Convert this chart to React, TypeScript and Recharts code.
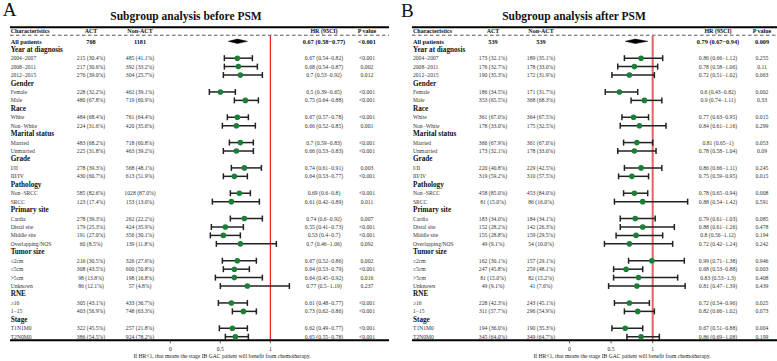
import React from 'react';
import { ScatterChart, Scatter, XAxis, YAxis, ErrorBar, ReferenceLine } from 'recharts';

const FONT = '"Liberation Serif", "Times New Roman", serif';
const GREEN = '#1a7f37';

// ---------- data ----------
const groupNames = ['Year at diagnosis', 'Gender', 'Race', 'Marital status', 'Grade', 'Pathology', 'Primary site', 'Tumor size', 'RNE', 'Stage'];
const subgroupLabels = [
  ['2004−2007', '2008−2011', '2012−2015'],
  ['Female', 'Male'],
  ['White', 'Non−White'],
  ['Married', 'Unmarried'],
  ['I/II', 'III/IV'],
  ['Non−SRCC', 'SRCC'],
  ['Cardia', 'Distal site', 'Middle site', 'Overlapping/NOS'],
  ['≤2cm', '≤5cm', '>5cm', 'Unknown'],
  ['≥16', '1−15'],
  ['T1N1M0', 'T2N0M0'],
];
const xTicks = [0, 0.5, 1];

// before PSM
const allBefore = { act: 708, non: 1181, hr: 0.67, lo: 0.58, hi: 0.77, p: '<0.001' };
const actNBefore = [215, 217, 276, 228, 480, 484, 224, 483, 225, 278, 430, 585, 123, 278, 179, 191, 60, 216, 308, 98, 86, 305, 403, 322, 386];
const actPctBefore = [30.4, 30.6, 39.0, 32.2, 67.8, 68.4, 31.6, 68.2, 31.8, 39.3, 60.7, 82.6, 17.4, 39.3, 25.3, 27.0, 8.5, 30.5, 43.5, 13.8, 12.1, 43.1, 56.9, 45.5, 54.5];
const nonNBefore = [485, 392, 304, 462, 719, 761, 420, 718, 463, 568, 613, 1028, 153, 262, 424, 356, 139, 326, 600, 198, 57, 433, 748, 257, 924];
const nonPctBefore = [41.1, 33.2, 25.7, 39.1, 60.9, 64.4, 35.6, 60.8, 39.2, 48.1, 51.9, 87.0, 13.0, 22.2, 35.9, 30.1, 11.8, 27.6, 50.8, 16.8, 4.8, 36.7, 63.3, 21.8, 78.2];
const hrBefore = [0.67, 0.68, 0.7, 0.5, 0.75, 0.67, 0.66, 0.7, 0.66, 0.74, 0.64, 0.69, 0.61, 0.74, 0.55, 0.53, 0.7, 0.67, 0.64, 0.64, 0.77, 0.61, 0.73, 0.62, 0.65];
const loBefore = [0.54, 0.54, 0.53, 0.39, 0.64, 0.57, 0.52, 0.59, 0.53, 0.61, 0.53, 0.6, 0.42, 0.6, 0.41, 0.4, 0.46, 0.52, 0.53, 0.45, 0.5, 0.48, 0.62, 0.49, 0.55];
const hiBefore = [0.82, 0.87, 0.92, 0.65, 0.88, 0.78, 0.85, 0.83, 0.83, 0.91, 0.77, 0.8, 0.89, 0.92, 0.73, 0.7, 1.06, 0.86, 0.79, 0.92, 1.19, 0.77, 0.86, 0.77, 0.78];
const pBefore = ['<0.001', '0.002', '0.012', '<0.001', '<0.001', '<0.001', '0.001', '<0.001', '<0.001', '0.003', '<0.001', '<0.001', '0.011', '0.007', '<0.001', '<0.001', '0.092', '0.002', '<0.001', '0.016', '0.237', '<0.001', '<0.001', '<0.001', '<0.001'];

// after PSM
const allAfter = { act: 539, non: 539, hr: 0.79, lo: 0.67, hi: 0.94, p: '0.009' };
const actNAfter = [173, 176, 190, 186, 353, 361, 178, 366, 173, 220, 319, 458, 81, 183, 152, 155, 49, 162, 247, 81, 49, 228, 311, 194, 345];
const actPctAfter = [32.1, 32.7, 35.3, 34.5, 65.5, 67.0, 33.0, 67.9, 32.1, 40.8, 59.2, 85.0, 15.0, 34.0, 28.2, 28.8, 9.1, 30.1, 45.8, 15.0, 9.1, 42.3, 57.7, 36.0, 64.0];
const nonNAfter = [189, 178, 172, 171, 368, 364, 175, 361, 178, 229, 310, 453, 86, 184, 142, 159, 54, 157, 259, 82, 41, 243, 296, 190, 349];
const nonPctAfter = [35.1, 33.0, 31.9, 31.7, 68.3, 67.5, 32.5, 67.0, 33.0, 42.5, 57.5, 84.0, 16.0, 34.1, 26.3, 29.5, 10.0, 29.1, 48.1, 15.2, 7.6, 45.1, 54.9, 35.3, 64.7];
const hrAfter = [0.86, 0.78, 0.72, 0.6, 0.9, 0.77, 0.84, 0.81, 0.78, 0.86, 0.75, 0.78, 0.88, 0.79, 0.88, 0.8, 0.72, 0.99, 0.68, 0.83, 0.81, 0.72, 0.82, 0.67, 0.86];
const loAfter = [0.66, 0.58, 0.51, 0.43, 0.74, 0.63, 0.61, 0.65, 0.58, 0.66, 0.59, 0.65, 0.54, 0.61, 0.61, 0.56, 0.42, 0.71, 0.53, 0.53, 0.47, 0.54, 0.66, 0.51, 0.69];
const hiAfter = [1.12, 1.06, 1.02, 0.82, 1.11, 0.95, 1.16, 1, 1.04, 1.11, 0.95, 0.94, 1.42, 1.03, 1.26, 1.12, 1.24, 1.38, 0.88, 1.3, 1.39, 0.96, 1.02, 0.88, 1.08];
const pAfter = ['0.255', '0.11', '0.063', '0.002', '0.33', '0.015', '0.299', '0.053', '0.09', '0.245', '0.015', '0.008', '0.591', '0.085', '0.478', '0.194', '0.242', '0.946', '0.003', '0.408', '0.439', '0.025', '0.073', '0.004', '0.199'];

// ---------- building ----------
type Row = { kind: 'all' | 'group' | 'sub'; label: string; act?: string; non?: string; hr?: number; lo?: number; hi?: number; p?: string };

function buildRows(all: any, actN: number[], actPct: number[], nonN: number[], nonPct: number[], hr: number[], lo: number[], hi: number[], p: string[]): Row[] {
  const rows: Row[] = [{ kind: 'all', label: 'All patients', act: String(all.act), non: String(all.non), hr: all.hr, lo: all.lo, hi: all.hi, p: all.p }];
  let k = 0;
  groupNames.forEach((g, gi) => {
    rows.push({ kind: 'group', label: g });
    subgroupLabels[gi].forEach((s) => {
      rows.push({
        kind: 'sub', label: s,
        act: `${actN[k]} (${actPct[k].toFixed(1)}%)`,
        non: `${nonN[k]} (${nonPct[k].toFixed(1)}%)`,
        hr: hr[k], lo: lo[k], hi: hi[k], p: p[k],
      });
      k++;
    });
  });
  return rows;
}

const rowsBefore = buildRows(allBefore, actNBefore, actPctBefore, nonNBefore, nonPctBefore, hrBefore, loBefore, hiBefore, pBefore);
const rowsAfter = buildRows(allAfter, actNAfter, actPctAfter, nonNAfter, nonPctAfter, hrAfter, loAfter, hiAfter, pAfter);

const HEADER_POS = -1.19;
const Y_DOMAIN = [-1.659, 35.427];
const DASH_POS = -0.72;

type Cols = { label: number; act: number; non: number; hr: number; p: number };

function makeTick(rows: Row[], cols: Cols) {
  return (props: any) => {
    const { y, payload } = props;
    const v = payload.value;
    const common = { fontFamily: FONT, dominantBaseline: 'central' as const, fill: '#111' };
    if (v < -0.5) {
      const hs = { ...common, fontSize: 6, fontWeight: 700 };
      return (
        <g>
          <text x={cols.label} y={y} {...hs}>Characteristics</text>
          <text x={cols.act} y={y} textAnchor="middle" {...hs}>ACT</text>
          <text x={cols.non} y={y} textAnchor="middle" {...hs}>Non-ACT</text>
          <text x={cols.hr} y={y} textAnchor="middle" {...hs}>HR (95CI)</text>
          <text x={cols.p} y={y} textAnchor="middle" {...hs}>P value</text>
        </g>
      );
    }
    const r = rows[v];
    if (!r) return <g />;
    if (r.kind === 'group') {
      return <text x={cols.label} y={y} {...common} fontSize={7.2} fontWeight={700}>{r.label}</text>;
    }
    const bold = r.kind === 'all';
    const st = { ...common, fontSize: bold ? 6.3 : 5.7, fontWeight: bold ? 700 : 400, fill: bold ? '#111' : '#333' };
    return (
      <g>
        <text x={cols.label} y={y} {...st} fontSize={bold ? 6.3 : 5.6}>{r.label}</text>
        <text x={cols.act} y={y} textAnchor="middle" {...st}>{r.act}</text>
        <text x={cols.non} y={y} textAnchor="middle" {...st}>{r.non}</text>
        <text x={cols.hr} y={y} textAnchor="middle" {...st}>{`${r.hr} (${r.lo}−${r.hi})`}</text>
        <text x={cols.p} y={y} textAnchor="middle" {...st}>{r.p}</text>
      </g>
    );
  };
}

const AxisTick = (props: any) => {
  const { x, y, payload } = props;
  return (
    <text x={x} y={y} dy="0.71em" textAnchor="middle" fontFamily={FONT} fontSize={5.6} fill="#222">
      {String(payload.value)}
    </text>
  );
};

type PanelProps = {
  rows: Row[];
  width: number;
  plotLeft: number;
  xDomain: [number, number];
  cols: Cols;
  redColor: string;
  redWidth: number;
};

function Panel({ rows, width, plotLeft, xDomain, cols, redColor, redWidth }: PanelProps) {
  const ciData = rows
    .map((r, i) => ({ r, i }))
    .filter(({ r }) => r.kind === 'sub')
    .map(({ r, i }) => ({ x: r.hr, y: i, err: [(r.hr as number) - (r.lo as number), (r.hi as number) - (r.hr as number)] }));
  const all = rows[0];
  const diamondData = [
    { x: all.lo, y: 0 },
    { x: all.hr, y: 0 },
    { x: all.hi, y: 0 },
  ];
  const ticks = [HEADER_POS, ...rows.map((_, i) => i)];
  const diamondLine = (p: any) => {
    const pts = p.points || [];
    if (pts.length < 3) return <g />;
    const yy = pts[1].y;
    const h = 2.2;
    return (
      <polygon
        points={`${pts[0].x},${yy} ${pts[1].x},${yy - h} ${pts[2].x},${yy} ${pts[1].x},${yy + h}`}
        fill="#000"
        stroke="#000"
        strokeWidth={0.5}
      />
    );
  };
  return (
    <ScatterChart width={width} height={361} margin={{ top: 27.3, right: 0, bottom: 0, left: 0 }}>
      <XAxis
        type="number"
        dataKey="x"
        domain={xDomain}
        allowDataOverflow
        ticks={xTicks}
        interval={0}
        height={20.7}
        tickSize={3}
        tickMargin={4}
        axisLine={{ stroke: '#000', strokeWidth: 2 }}
        tickLine={{ stroke: '#333', strokeWidth: 0.8 }}
        tick={<AxisTick />}
      />
      <YAxis
        type="number"
        dataKey="y"
        domain={Y_DOMAIN}
        allowDataOverflow
        reversed
        ticks={ticks}
        interval={0}
        width={plotLeft}
        axisLine={false}
        tickLine={false}
        tick={makeTick(rows, cols)}
      />
      <ReferenceLine y={Y_DOMAIN[0]} stroke="#000" strokeWidth={2} ifOverflow="visible" />
      <ReferenceLine y={DASH_POS} stroke="#444" strokeWidth={0.9} strokeDasharray="3.5 2.5" ifOverflow="visible" />
      <ReferenceLine
        segment={[{ x: 1, y: DASH_POS }, { x: 1, y: Y_DOMAIN[1] }]}
        stroke={redColor}
        strokeWidth={redWidth}
        ifOverflow="visible"
      />
      <Scatter
        data={diamondData}
        isAnimationActive={false}
        line={diamondLine}
        lineType="joint"
        shape={() => <g />}
      />
      <Scatter
        data={ciData}
        isAnimationActive={false}
        shape={(p: any) => <circle cx={p.cx} cy={p.cy} r={2.8} fill={GREEN} />}
      >
        <ErrorBar dataKey="err" direction="x" width={3} stroke="#222" strokeWidth={1.5} />
      </Scatter>
    </ScatterChart>
  );
}

export default function App() {
  return (
    <div style={{ position: 'absolute', left: 0, top: 0, width: 777, height: 361, background: '#fff' }}>
      <div style={{ position: 'absolute', left: 0, top: 0 }}>
        <Panel
          rows={rowsBefore}
          width={389}
          plotLeft={10}
          xDomain={[-1.603, 2.186]}
          cols={{ label: 10.7, act: 91, non: 140, hr: 324, p: 367 }}
          redColor="#e4201c"
          redWidth={1.2}
        />
      </div>
      <div style={{ position: 'absolute', left: 389, top: 0 }}>
        <Panel
          rows={rowsAfter}
          width={388}
          plotLeft={23}
          xDomain={[-1.893, 2.494]}
          cols={{ label: 24, act: 104, non: 152, hr: 329, p: 373 }}
          redColor="#e46464"
          redWidth={2}
        />
      </div>
      <svg width={777} height={361} style={{ position: 'absolute', left: 0, top: 0, pointerEvents: 'none' }}>
        <text x={2.7} y={16} fontFamily={FONT} fontSize={19} fill="#111">A</text>
        <text x={186} y={15.5} textAnchor="middle" dominantBaseline="central" fontFamily={FONT} fontSize={11.5} fontWeight={700} fill="#111">
          Subgroup analysis before PSM
        </text>
        <text x={401} y={16.5} fontFamily={FONT} fontSize={19} fill="#111">B</text>
        <text x={574} y={15.5} textAnchor="middle" dominantBaseline="central" fontFamily={FONT} fontSize={11.5} fontWeight={700} fill="#111">
          Subgroup analysis after PSM
        </text>
        <text x={222} y={355.5} textAnchor="middle" dominantBaseline="central" fontFamily={FONT} fontSize={5.6} fill="#222">
          If HR&lt;1, that means the stage IB GAC patient will benefit from chemotherapy.
        </text>
        <text x={622} y={355.5} textAnchor="middle" dominantBaseline="central" fontFamily={FONT} fontSize={5.6} fill="#222">
          If HR&lt;1, that means the stage IB GAC patient will benefit from chemotherapy.
        </text>
      </svg>
    </div>
  );
}
